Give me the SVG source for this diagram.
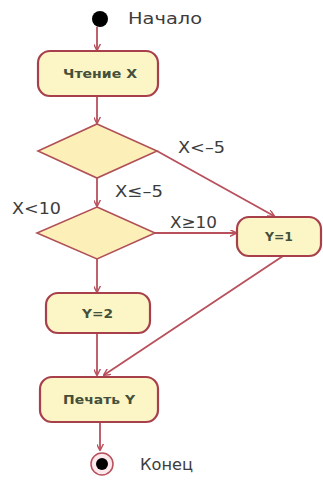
<svg xmlns="http://www.w3.org/2000/svg" width="323" height="483" viewBox="0 0 323 483">
<style>
.box{fill:#fcf5c6;stroke:#a8404c;stroke-width:2.2}
.dia{fill:#fcf0b8;stroke:#b05058;stroke-width:1.6}
.edge{fill:none;stroke:#b8505c;stroke-width:1.8}
.t{font-family:"DejaVu Sans","Liberation Sans",sans-serif;fill:#3c3c3c;font-size:16.5px}
.bt{font-family:"DejaVu Sans","Liberation Sans",sans-serif;font-weight:bold;font-size:13px;fill:#44503a}
</style>
<defs>
<marker id="arr" viewBox="0 0 10 10" refX="9" refY="5" markerWidth="7" markerHeight="7" orient="auto" markerUnits="userSpaceOnUse">
<path d="M0,0 L10,5 L0,10" fill="none" stroke="#b8505c" stroke-width="2"/>
</marker>
</defs>
<g id="connectors">
<line class="edge" x1="97" y1="27" x2="97" y2="50" marker-end="url(#arr)"/>
<line class="edge" x1="97" y1="96" x2="97" y2="123" marker-end="url(#arr)"/>
<line class="edge" x1="157" y1="151" x2="274" y2="216" marker-end="url(#arr)"/>
<line class="edge" x1="97" y1="178" x2="97" y2="206" marker-end="url(#arr)"/>
<line class="edge" x1="155" y1="233" x2="236" y2="233" marker-end="url(#arr)"/>
<line class="edge" x1="97" y1="259" x2="97" y2="292" marker-end="url(#arr)"/>
<line class="edge" x1="97" y1="333" x2="97" y2="375" marker-end="url(#arr)"/>
<line class="edge" x1="283" y1="256" x2="104" y2="375" marker-end="url(#arr)"/>
<line class="edge" x1="100" y1="422" x2="100" y2="450" marker-end="url(#arr)"/>
</g>
<g id="start">
<circle cx="100" cy="19" r="8" fill="#000"/>
<text class="t" x="128" y="24" textLength="74" lengthAdjust="spacingAndGlyphs">Начало</text>
</g>
<g id="read">
<rect class="box" x="38" y="51" width="120" height="45" rx="12"/>
<text class="bt" x="63" y="78" textLength="74" lengthAdjust="spacingAndGlyphs">Чтение X</text>
</g>
<g id="dec1">
<polygon class="dia" points="97,124 157,151 97,178 38,151"/>
</g>
<g id="dec2">
<polygon class="dia" points="97,207 155,233 97,259 37,233"/>
</g>
<g id="y1">
<rect class="box" x="237" y="217" width="84" height="39" rx="12"/>
<text class="bt" x="265" y="241" textLength="28" lengthAdjust="spacingAndGlyphs">Y=1</text>
</g>
<g id="y2">
<rect class="box" x="46" y="293" width="104" height="40" rx="12"/>
<text class="bt" x="82" y="318" textLength="31" lengthAdjust="spacingAndGlyphs">Y=2</text>
</g>
<g id="print">
<rect class="box" x="40" y="377" width="118" height="45" rx="12"/>
<text class="bt" x="63" y="404" textLength="72" lengthAdjust="spacingAndGlyphs">Печать Y</text>
</g>
<g id="end">
<circle cx="102" cy="464" r="11" fill="#fbe9ee" stroke="#b8505c" stroke-width="1.5"/>
<circle cx="102" cy="464" r="6" fill="#000"/>
<text class="t" x="140" y="470" textLength="53" lengthAdjust="spacingAndGlyphs">Конец</text>
</g>
<g id="labels">
<text class="t" x="178" y="153" textLength="47" lengthAdjust="spacingAndGlyphs">X&lt;–5</text>
<text class="t" x="115" y="197" textLength="48" lengthAdjust="spacingAndGlyphs">X≤–5</text>
<text class="t" x="12" y="214" textLength="49" lengthAdjust="spacingAndGlyphs">X&lt;10</text>
<text class="t" x="170" y="228" textLength="47" lengthAdjust="spacingAndGlyphs">X≥10</text>
</g>
</svg>
